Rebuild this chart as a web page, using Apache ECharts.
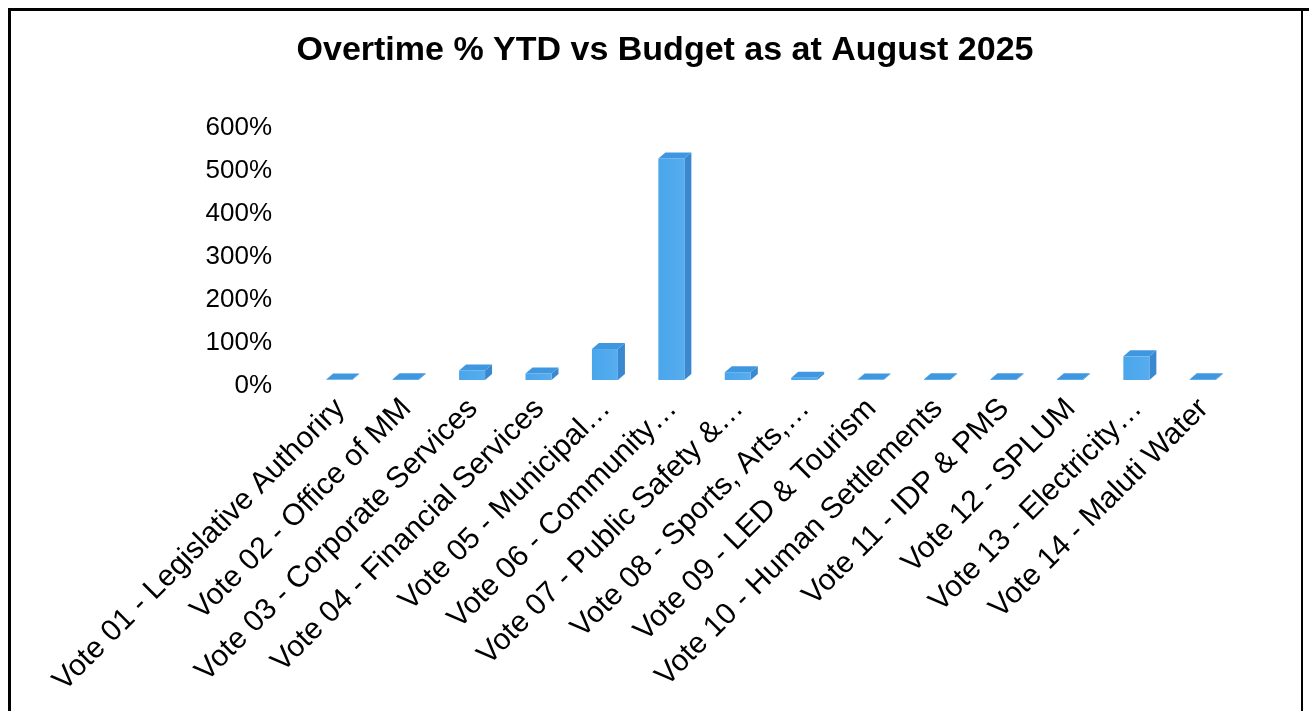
<!DOCTYPE html>
<html>
<head>
<meta charset="utf-8">
<title>Overtime % YTD vs Budget</title>
<script src="https://cdn.jsdelivr.net/npm/echarts@6/dist/echarts.min.js"></script>
<style>
  html, body { margin: 0; padding: 0; background: #ffffff; }
  #chart { width: 1309px; height: 711px; }
</style>
</head>
<body>
<div id="chart"></div>
<script>
// Departments (votes) along the category axis
const categories = [
  'Vote 01 - Legislative Authoriry',
  'Vote 02 - Office of MM',
  'Vote 03 - Corporate Services',
  'Vote 04 - Financial Services',
  'Vote 05 - Municipal\u2026',
  'Vote 06 - Community\u2026',
  'Vote 07 - Public Safety &\u2026',
  'Vote 08 - Sports, Arts,\u2026',
  'Vote 09 - LED & Tourism',
  'Vote 10 - Human Settlements',
  'Vote 11 - IDP & PMS',
  'Vote 12 - SPLUM',
  'Vote 13 - Electricity\u2026',
  'Vote 14 - Maluti Water'
];

// Overtime spent year-to-date as a percentage of budget
const overtimePct = [1, 2, 22, 15, 72, 515, 18, 5, 1, 2, 2, 2, 55, 2];

// Value axis ticks (percent)
const yTicks = [0, 100, 200, 300, 400, 500, 600];

const chart = echarts.init(document.getElementById('chart'), null, { renderer: 'canvas' });

const FONT = '"Liberation Sans", Arial, Helvetica, sans-serif';

// Draws each value as a pseudo-3D column: front face, right side and top.
function renderColumn(params, api) {
  const idx = api.value(0);
  const val = api.value(1);
  const base = api.coord([idx, 0]);
  const top = api.coord([idx, val]);
  const lift = -6;            // columns sit slightly behind the axis plane
  const w = 26, dx = 7, dy = 6;
  const xl = base[0] - 14;
  const xr = xl + w;
  const y0 = base[1] + lift;
  const y1 = Math.min(top[1] + lift, y0);

  return {
    type: 'group',
    children: [
      {
        type: 'polygon',
        shape: { points: [[xr, y1], [xr + dx, y1 - dy], [xr + dx, y0 - dy], [xr, y0]] },
        style: { fill: '#3a88cf' }
      },
      {
        type: 'rect',
        shape: { x: xl, y: y1, width: w, height: y0 - y1 },
        style: {
          fill: new echarts.graphic.LinearGradient(0, 0, 1, 0, [
            { offset: 0, color: '#4aa5ea' },
            { offset: 1, color: '#56adef' }
          ])
        }
      },
      {
        type: 'polygon',
        shape: { points: [[xl, y1], [xl + dx, y1 - dy], [xr + dx, y1 - dy], [xr, y1]] },
        style: { fill: '#3f97e0' }
      }
    ]
  };
}

const option = {
  backgroundColor: '#ffffff',
  animation: false,
  title: {
    text: 'Overtime % YTD vs Budget as at August 2025',
    left: 660,
    textAlign: 'center',
    top: 29,
    textStyle: { fontFamily: FONT, fontSize: 34, fontWeight: 'bold', color: '#000000' }
  },
  grid: { left: 307, right: 72, top: 128, bottom: 325, containLabel: false },
  xAxis: {
    type: 'category',
    data: categories,
    boundaryGap: true,
    axisLine: { show: false },
    axisTick: { show: false },
    splitLine: { show: false },
    axisLabel: {
      interval: 0,
      rotate: 45,
      margin: 18,
      fontFamily: FONT,
      fontSize: 30,
      color: '#000000'
    }
  },
  yAxis: {
    type: 'value',
    min: yTicks[0],
    max: yTicks[yTicks.length - 1],
    interval: yTicks[1] - yTicks[0],
    axisLine: { show: false },
    axisTick: { show: false },
    splitLine: { show: false },
    axisLabel: {
      margin: 35,
      fontFamily: FONT,
      fontSize: 26,
      color: '#000000',
      formatter: '{value}%'
    }
  },
  series: [{
    type: 'custom',
    renderItem: renderColumn,
    encode: { x: 0, y: 1 },
    data: overtimePct.map((v, i) => [i, v])
  }],
  graphic: [
    { type: 'rect', shape: { x: 8, y: 8, width: 1301, height: 3 }, style: { fill: '#000000' } },
    { type: 'rect', shape: { x: 8, y: 8, width: 3, height: 703 }, style: { fill: '#000000' } },
    { type: 'rect', shape: { x: 1301, y: 8, width: 2, height: 703 }, style: { fill: '#000000' } }
  ]
};

chart.setOption(option);
</script>
</body>
</html>
